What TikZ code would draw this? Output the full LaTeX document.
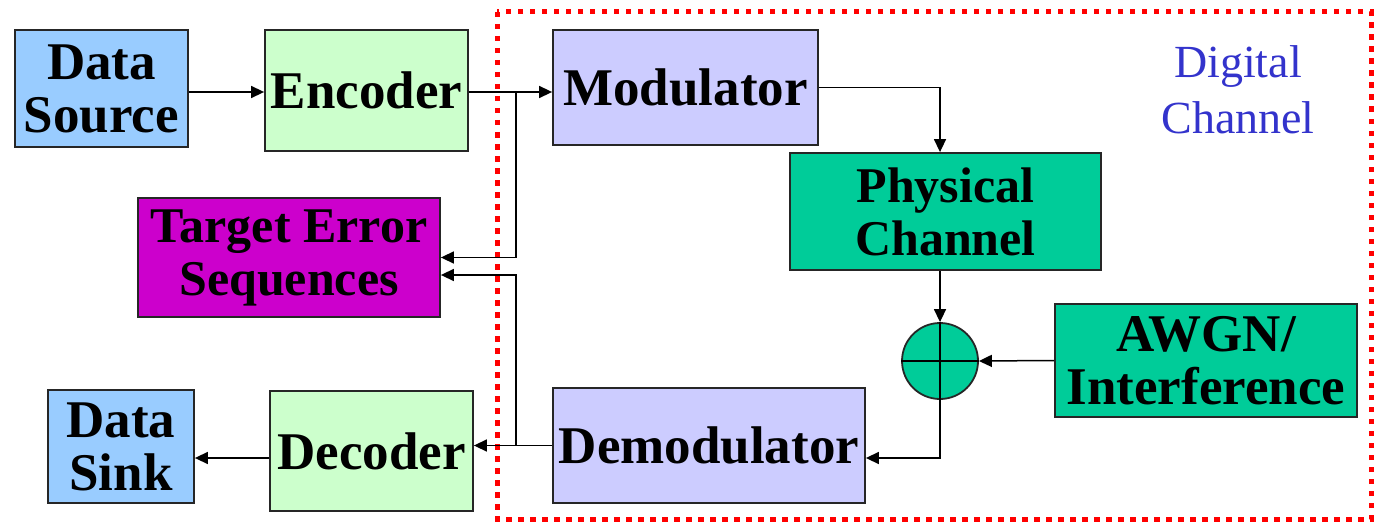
\documentclass[tikz,border=0pt]{standalone}
\usepackage{fontspec}
\setmainfont{Liberation Serif}
\usetikzlibrary{arrows.meta}

\definecolor{srcblue}{HTML}{99CCFF}
\definecolor{codgreen}{HTML}{CCFFCC}
\definecolor{modlilac}{HTML}{CCCCFF}
\definecolor{chanteal}{HTML}{00CC99}
\definecolor{errmagenta}{HTML}{CC00CC}
\definecolor{labelblue}{HTML}{3333CC}

\begin{document}
\begin{tikzpicture}[x=1pt, y=-1pt, >={Triangle[length=13pt,width=12pt]}, line width=1.5pt,
    block/.style={draw=black!85, line width=1.8pt, inner sep=0pt, align=center,
                  font=\fontsize{53}{53}\selectfont\bfseries},
    smallblock/.style={block, font=\fontsize{50}{53}\selectfont\bfseries}]
                \useasboundingbox (0,0) rectangle (1375,524);

                % digital channel frame
                \draw[red, line width=5pt, dash pattern=on 5.5pt off 6.5pt] (497,12) rectangle (1371,519);
                \node[labelblue, align=center, font=\fontsize{46}{56}\selectfont] (dclabel) at (1238,90) {Digital\\Channel};

                \node[block, fill=srcblue, minimum width=173pt, minimum height=117pt] (src) at (101.5,88.5) {Data\\Source};
                \node[block, fill=codgreen, minimum width=203pt, minimum height=121pt] (enc) at (366.5,90.5) {Encoder};
                \node[block, fill=modlilac, minimum width=265pt, minimum height=115pt] (mod) at (685.5,87.5) {Modulator};
                \node[smallblock, fill=chanteal, minimum width=311pt, minimum height=117pt] (phy) at (945.5,211.5) {Physical\\Channel};
                \node[smallblock, fill=errmagenta, minimum width=302pt, minimum height=119pt] (tes) at (289,257.5) {Target Error\\Sequences};
                \node[block, fill=chanteal, minimum width=302pt, minimum height=113pt] (awgn) at (1206,360.5) {AWGN/\\Interference};
                \node[block, fill=srcblue, minimum width=146pt, minimum height=113pt] (snk) at (121,446.5) {Data\\Sink};
                \node[block, fill=codgreen, minimum width=203pt, minimum height=120pt] (dec) at (371.5,451) {Decoder};
                \node[block, fill=modlilac, minimum width=312pt, minimum height=115pt] (dem) at (709,445.5) {Demodulator};

                % adder
                \node[circle, draw=black!85, line width=1.8pt, fill=chanteal, minimum size=76pt, inner sep=0pt] (sum) at (940,361) {};
                \draw (sum.north) -- (sum.south) (sum.west) -- (sum.east);

                \draw[->] ([yshift=-3.5pt]src.east) -- ([yshift=-3.5pt]src.east -| enc.west);
                \draw[->] ([yshift=-1.5pt]enc.east) -- ([yshift=-1.5pt]enc.east -| mod.west);
                \coordinate (tapa) at ([yshift=-1.5pt]enc.east -| 516,0);
                \draw[->] (tapa) |- (tes.east);

                \draw[->] (mod.east) -| (sum |- phy.north);
                \draw[->] (sum |- phy.south) -- (sum.north);
                \draw[->] (awgn.west) -- (sum.east);
                \draw[->] (sum.south) |- ([yshift=-12.5pt]dem.east);

                \draw[->] (dem.west) -- (dem.west -| dec.east);
                \coordinate (tapb) at (dem.west -| 516,0);
                \draw[->] (tapb) |- ([yshift=-17.5pt]tes.east);
                \draw[->] ([yshift=-7pt]dec.west) -- ([yshift=-7pt]dec.west -| snk.east);
            \end{tikzpicture}
\end{document}
